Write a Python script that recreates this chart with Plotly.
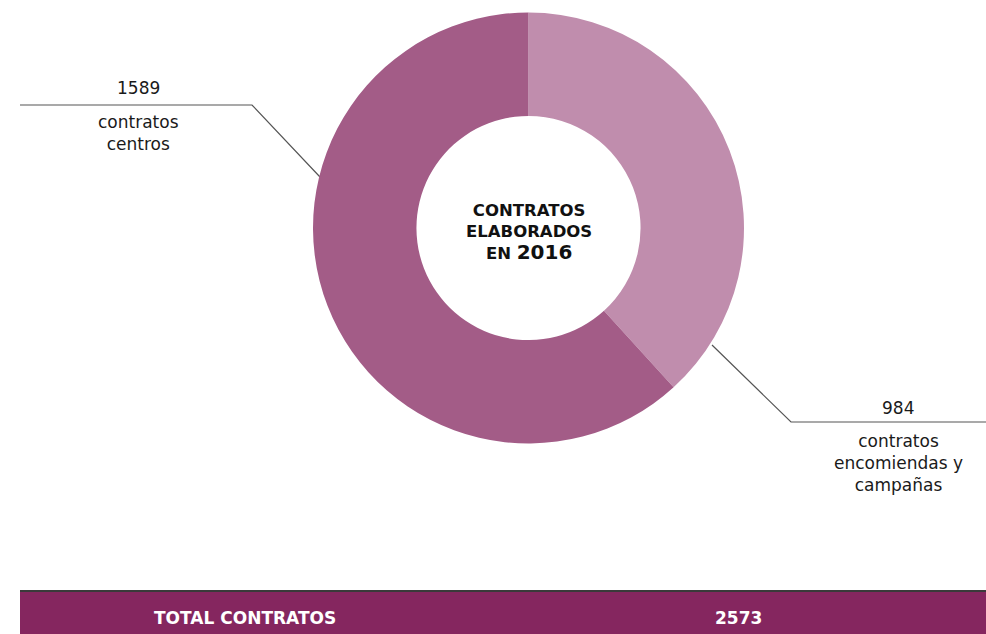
import plotly.graph_objects as go

# Contract counts for 2016
categories = ["contratos encomiendas y campañas", "contratos centros"]
values = [984, 1589]
slice_colors = ["#c08dad", "#a35c87"]
center_title = ["CONTRATOS", "ELABORADOS", "EN"]
center_year = "2016"
total_label = "TOTAL CONTRATOS"
total_value = sum(values)

W, H = 986, 634
FONT = "DejaVu Sans"

fig = go.Figure()

# Donut, placed in a square pixel box
cx, cy, r = 528.5, 228, 215.5
fig.add_trace(go.Pie(
    labels=categories,
    values=values,
    sort=False,
    direction="clockwise",
    rotation=0,
    hole=0.52,
    marker=dict(colors=slice_colors, line=dict(width=0)),
    textinfo="none",
    hoverinfo="label+value",
    showlegend=False,
    domain=dict(x=[(cx - r) / W, (cx + r) / W],
                y=[1 - (cy + r) / H, 1 - (cy - r) / H]),
))

# Leader lines (pixel-space overlay axis)
leaders = [
    ([20, 252, 320], [105, 105, 177]),
    ([712, 791, 986], [345, 422, 422]),
]
for lx, ly in leaders:
    fig.add_trace(go.Scatter(
        x=lx, y=ly, mode="lines",
        line=dict(color="#555555", width=1.2),
        hoverinfo="skip", showlegend=False,
    ))

annotations = []

def add_text(x, y, text, size=17, color="#1a1a1a", anchor="middle"):
    annotations.append(dict(
        x=x, y=y, xref="x", yref="y", text=text,
        showarrow=False, xanchor="center", yanchor=anchor,
        font=dict(family=FONT, size=size, color=color),
    ))

# Slice labels
add_text(138, 88, str(values[1]), size=17)
add_text(138, 110, "contratos<br>centros", size=17, anchor="top")
add_text(898, 408, str(values[0]), size=17)
add_text(898, 429, "contratos<br>encomiendas y<br>campañas", size=17, anchor="top")

# Centre title
add_text(529, 232,
         f"<b>{center_title[0]}<br>{center_title[1]}<br>{center_title[2]} "
         f"<span style='font-size:20px'>{center_year}</span></b>",
         size=16.5, color="#111111")

# Total bar
add_text(245, 618, f"<b>{total_label}</b>", size=17, color="#ffffff")
add_text(738, 618, f"<b>{total_value}</b>", size=17, color="#ffffff")

shapes = [
    dict(type="rect", xref="x", yref="y", x0=20, x1=W, y0=591, y1=H,
         fillcolor="#85265f", line=dict(width=0), layer="below"),
    dict(type="line", xref="x", yref="y", x0=20, x1=W, y0=591, y1=591,
         line=dict(color="#3a3a3a", width=2)),
]

fig.update_layout(
    width=W, height=H,
    margin=dict(l=0, r=0, t=0, b=0),
    paper_bgcolor="white", plot_bgcolor="rgba(0,0,0,0)",
    xaxis=dict(range=[0, W], visible=False, fixedrange=True, domain=[0, 1]),
    yaxis=dict(range=[H, 0], visible=False, fixedrange=True, domain=[0, 1]),
    annotations=annotations,
    shapes=shapes,
)

fig.write_html("out.html")
